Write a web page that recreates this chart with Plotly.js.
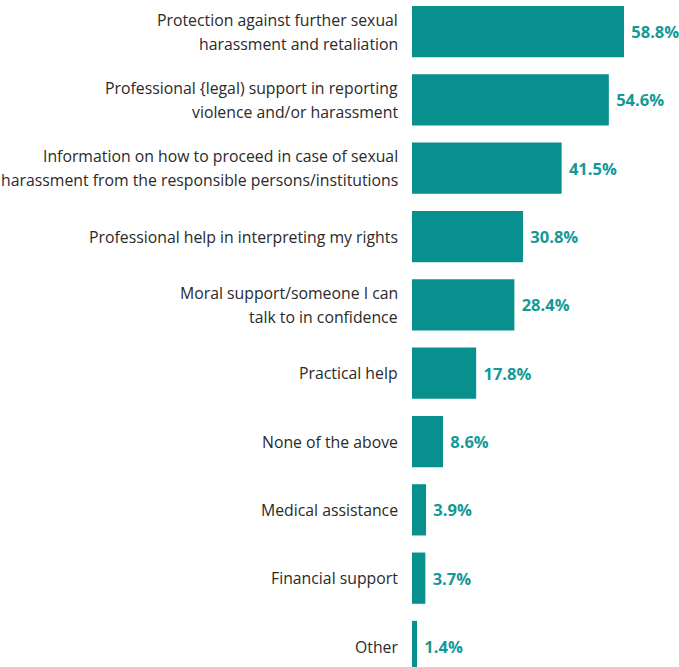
<!DOCTYPE html>
<html>
<head>
<meta charset="utf-8">
<script src="https://cdn.plot.ly/plotly-3.0.1.min.js"></script>
<style>html,body{margin:0;padding:0;background:#fff;}#chart{width:679px;height:667px;}</style>
</head>
<body>
<div id="chart"></div>
<script>
const categories = [
  "Protection against further sexual<br>harassment and retaliation",
  "Professional {legal) support in reporting<br>violence and/or harassment",
  "Information on how to proceed in case of sexual<br>harassment from the responsible persons/institutions",
  "Professional help in interpreting my rights",
  "Moral support/someone I can<br>talk to in confidence",
  "Practical help",
  "None of the above",
  "Medical assistance",
  "Financial support",
  "Other"
];
const values = [58.8, 54.6, 41.5, 30.8, 28.4, 17.8, 8.6, 3.9, 3.7, 1.4];
const valueLabels = ["58.8%", "54.6%", "41.5%", "30.8%", "28.4%", "17.8%", "8.6%", "3.9%", "3.7%", "1.4%"];

const trace = {
  type: "bar",
  orientation: "h",
  y: categories,
  x: values,
  text: valueLabels,
  texttemplate: "\u00a0%{text}",
  textposition: "outside",
  textfont: {family: "'Open Sans', sans-serif", size: 16.5, color: "#139996", weight: "bold"},
  cliponaxis: false,
  marker: {color: "#07908e"},
  hoverinfo: "none"
};

// Category labels drawn as annotations so the two lines can have the wider line spacing of the original
const annotations = [];
categories.forEach(function (cat) {
  const lines = cat.split("<br>");
  const n = lines.length;
  lines.forEach(function (line, i) {
    annotations.push({
      xref: "paper", yref: "y",
      x: 0, y: cat,
      text: line,
      showarrow: false,
      xanchor: "right", yanchor: "middle",
      xshift: -12,
      yshift: ((n - 1) / 2 - i) * 24,
      font: {family: "'Open Sans', sans-serif", size: 15.8, color: "#2a2a2a"}
    });
  });
});

const layout = {
  width: 679, height: 667,
  margin: {l: 412, r: 0, t: 0, b: 0},
  paper_bgcolor: "#fff", plot_bgcolor: "#fff",
  showlegend: false,
  bargap: 0.25,
  font: {family: "'Open Sans', sans-serif", size: 15, color: "#222"},
  xaxis: {range: [0, 74.06], visible: false, showgrid: false, zeroline: false, fixedrange: true},
  yaxis: {
    type: "category",
    categoryorder: "array", categoryarray: categories,
    range: [9.30, -0.461],
    showgrid: false, zeroline: false, showline: false,
    ticks: "", showticklabels: false
  },
  annotations: annotations
};

Plotly.newPlot("chart", [trace], layout, {displayModeBar: false, staticPlot: true});
</script>
</body>
</html>
